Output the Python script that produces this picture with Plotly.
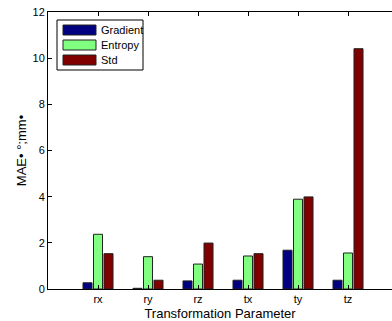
import plotly.graph_objects as go

categories = ["rx", "ry", "rz", "tx", "ty", "tz"]
series_names = ["Gradient", "Entropy", "Std"]
gradient = [0.27, 0.03, 0.35, 0.38, 1.68, 0.38]
entropy = [2.37, 1.40, 1.08, 1.43, 3.89, 1.56]
std = [1.53, 0.38, 1.99, 1.53, 3.99, 10.41]
colors = ["#000080", "#80FF80", "#800000"]
y_ticks = [0, 2, 4, 6, 8, 10, 12]

FONT = "Liberation Sans, Arial, Helvetica, sans-serif"

fig = go.Figure()
for name, vals, col in zip(series_names, [gradient, entropy, std], colors):
    fig.add_trace(go.Bar(
        x=categories, y=vals, name=name,
        marker=dict(color=col, line=dict(color="#222222", width=1)),
        showlegend=False, hoverinfo="skip",
    ))

W, H = 392, 321
ml, mr, mt, mb = 48, 0, 12, 32
pw, ph = W - ml - mr, H - mt - mb

def px(x):
    return (x - ml) / pw

def py(y):
    return 1 - (y - mt) / ph

shapes = [dict(type="rect", xref="paper", yref="paper",
               x0=px(57), x1=px(143), y0=py(70), y1=py(20),
               line=dict(color="black", width=1), fillcolor="white")]
annotations = []
for i, (name, col) in enumerate(zip(series_names, colors)):
    yc = 30 + i * 15
    shapes.append(dict(type="rect", xref="paper", yref="paper",
                       x0=px(63), x1=px(96), y0=py(yc + 5), y1=py(yc - 5),
                       line=dict(color="#222222", width=1), fillcolor=col))
    annotations.append(dict(xref="paper", yref="paper", x=px(99), y=py(yc),
                            text=name, showarrow=False, xanchor="left",
                            yanchor="middle",
                            font=dict(family=FONT, size=11, color="black")))

fig.update_layout(
    autosize=True,
    margin=dict(l=ml, r=mr, t=mt, b=mb),
    paper_bgcolor="white", plot_bgcolor="white",
    barmode="group", bargap=0.37, bargroupgap=0.14,
    hovermode=False, dragmode=False,
    font=dict(family=FONT, size=11, color="black"),
    shapes=shapes, annotations=annotations,
    xaxis=dict(
        type="category", range=[-1, 5.88],
        showline=True, linecolor="black", linewidth=1, mirror="ticks",
        ticks="inside", ticklen=4, tickcolor="black",
        showgrid=False, zeroline=False, showspikes=False,
        tickfont=dict(size=11),
        title=dict(text="Transformation Parameter", font=dict(size=13), standoff=4),
    ),
    yaxis=dict(
        range=[0, 12], tickvals=y_ticks,
        showline=True, linecolor="black", linewidth=1,
        ticks="inside", ticklen=4, tickcolor="black",
        showgrid=False, zeroline=False, showspikes=False,
        tickfont=dict(size=11),
        title=dict(text="MAE• °;mm•", font=dict(size=13), standoff=2),
    ),
)

fig.write_html(
    "out.html",
    config={"displayModeBar": False, "staticPlot": True},
    default_width="%dpx" % W,
    default_height="%dpx;position:fixed;top:0;left:0" % H,
    post_script=(
        "document.body.style.margin='0';"
        "document.body.style.overflow='hidden';"
    ),
)
